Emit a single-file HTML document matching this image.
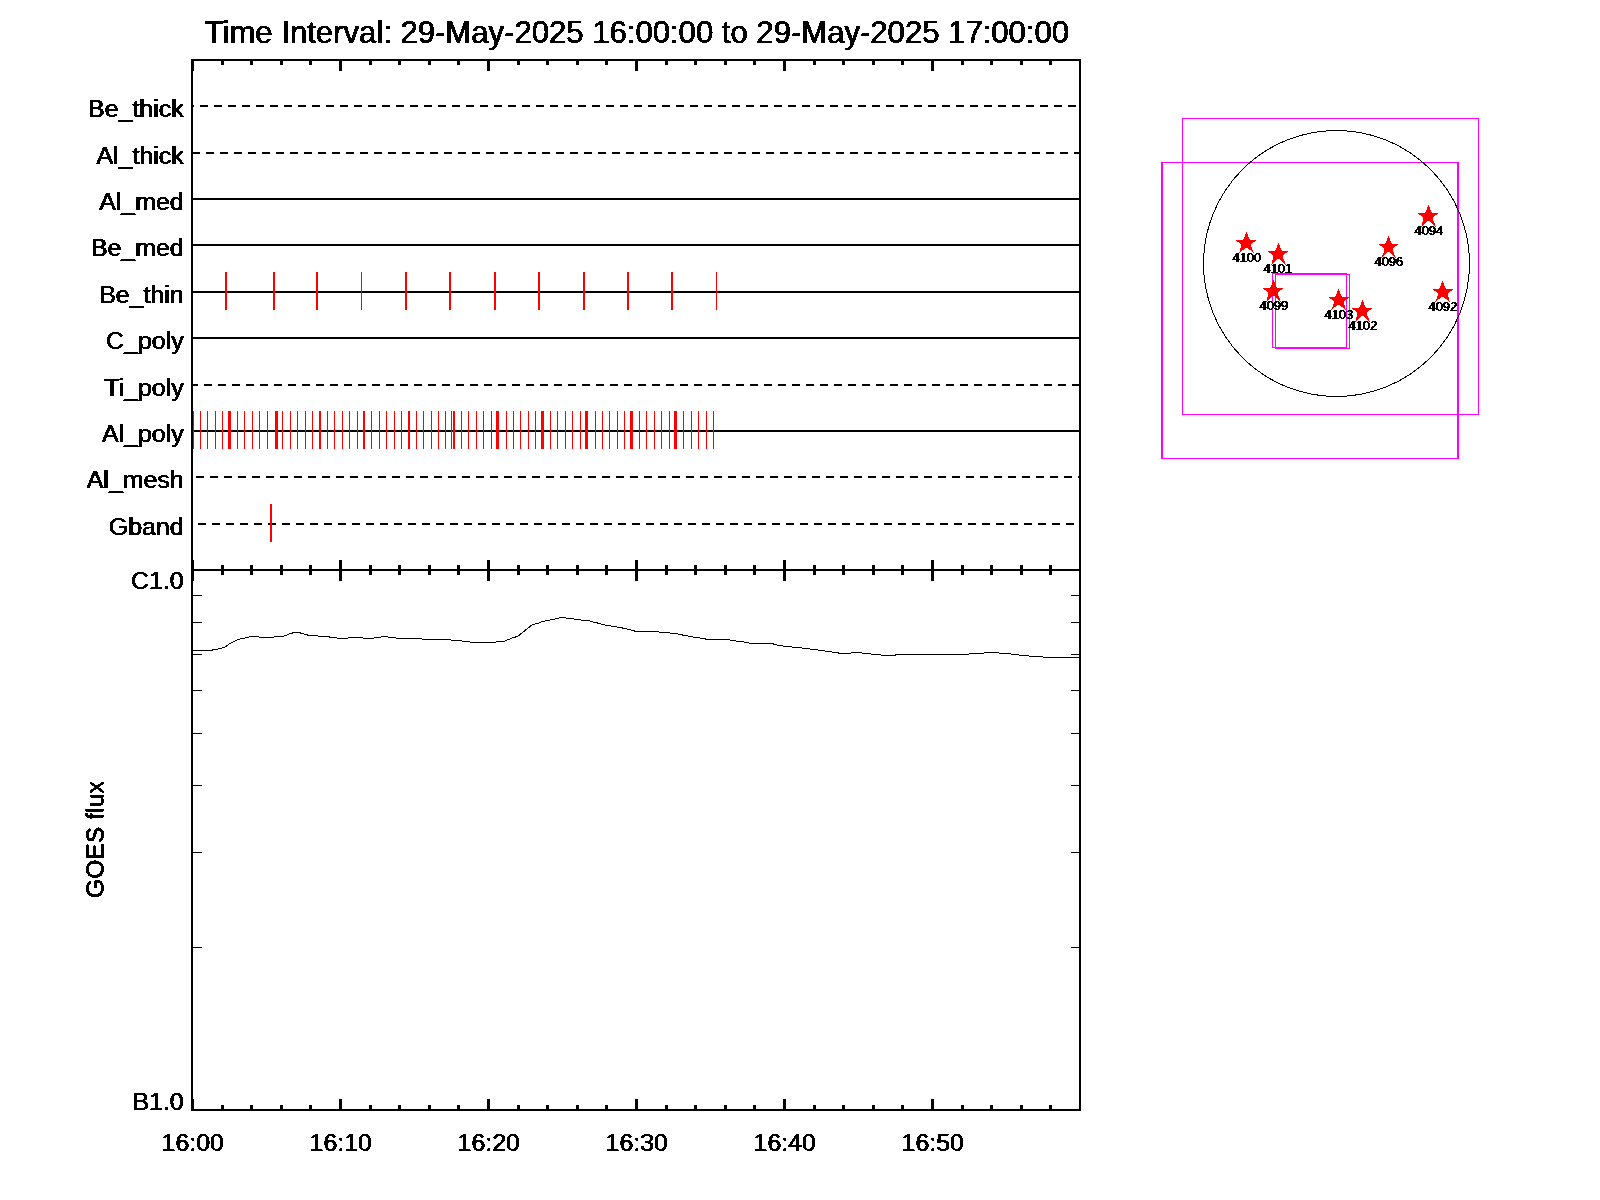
<!DOCTYPE html>
<html lang="en"><head><meta charset="utf-8"><title>XRT Time Interval Plot</title>
<style>
html,body{margin:0;padding:0;background:#fff;}
body{width:1600px;height:1200px;overflow:hidden;}
svg{display:block;}
text{font-family:"Liberation Sans", sans-serif;fill:#000;}
.m{font-size:24.8px;}
.t{font-size:30.5px;}
.s{font-size:12.9px;}
</style></head><body>
<svg width="1600" height="1200" viewBox="0 0 1600 1200">
<rect x="0" y="0" width="1600" height="1200" fill="#fff"/>
<defs><filter id="th" filterUnits="userSpaceOnUse" x="0" y="0" width="1600" height="1200" color-interpolation-filters="sRGB"><feOffset in="SourceGraphic" dx="0.75" dy="0" result="o"/><feMerge result="m"><feMergeNode in="SourceGraphic"/><feMergeNode in="o"/></feMerge><feComponentTransfer in="m"><feFuncA type="discrete" tableValues="0 0 1 1"/></feComponentTransfer></filter></defs>
<g shape-rendering="crispEdges">
<rect x="191" y="59" width="2" height="1052" fill="#000"/>
<rect x="1079" y="59" width="2" height="1052" fill="#000"/>
<rect x="191" y="59" width="890" height="2" fill="#000"/>
<rect x="191" y="569" width="890" height="2" fill="#000"/>
<rect x="191" y="1109" width="890" height="2" fill="#000"/>
<rect x="191" y="61" width="3" height="10" fill="#000"/>
<rect x="191" y="560" width="3" height="21" fill="#000"/>
<rect x="191" y="1099" width="3" height="10" fill="#000"/>
<rect x="221" y="61" width="3" height="4" fill="#000"/>
<rect x="221" y="565" width="3" height="10" fill="#000"/>
<rect x="221" y="1105" width="3" height="4" fill="#000"/>
<rect x="250" y="61" width="3" height="4" fill="#000"/>
<rect x="250" y="565" width="3" height="10" fill="#000"/>
<rect x="250" y="1105" width="3" height="4" fill="#000"/>
<rect x="280" y="61" width="3" height="4" fill="#000"/>
<rect x="280" y="565" width="3" height="10" fill="#000"/>
<rect x="280" y="1105" width="3" height="4" fill="#000"/>
<rect x="309" y="61" width="3" height="4" fill="#000"/>
<rect x="309" y="565" width="3" height="10" fill="#000"/>
<rect x="309" y="1105" width="3" height="4" fill="#000"/>
<rect x="339" y="61" width="3" height="10" fill="#000"/>
<rect x="339" y="560" width="3" height="21" fill="#000"/>
<rect x="339" y="1099" width="3" height="10" fill="#000"/>
<rect x="369" y="61" width="3" height="4" fill="#000"/>
<rect x="369" y="565" width="3" height="10" fill="#000"/>
<rect x="369" y="1105" width="3" height="4" fill="#000"/>
<rect x="398" y="61" width="3" height="4" fill="#000"/>
<rect x="398" y="565" width="3" height="10" fill="#000"/>
<rect x="398" y="1105" width="3" height="4" fill="#000"/>
<rect x="428" y="61" width="3" height="4" fill="#000"/>
<rect x="428" y="565" width="3" height="10" fill="#000"/>
<rect x="428" y="1105" width="3" height="4" fill="#000"/>
<rect x="457" y="61" width="3" height="4" fill="#000"/>
<rect x="457" y="565" width="3" height="10" fill="#000"/>
<rect x="457" y="1105" width="3" height="4" fill="#000"/>
<rect x="487" y="61" width="3" height="10" fill="#000"/>
<rect x="487" y="560" width="3" height="21" fill="#000"/>
<rect x="487" y="1099" width="3" height="10" fill="#000"/>
<rect x="517" y="61" width="3" height="4" fill="#000"/>
<rect x="517" y="565" width="3" height="10" fill="#000"/>
<rect x="517" y="1105" width="3" height="4" fill="#000"/>
<rect x="546" y="61" width="3" height="4" fill="#000"/>
<rect x="546" y="565" width="3" height="10" fill="#000"/>
<rect x="546" y="1105" width="3" height="4" fill="#000"/>
<rect x="576" y="61" width="3" height="4" fill="#000"/>
<rect x="576" y="565" width="3" height="10" fill="#000"/>
<rect x="576" y="1105" width="3" height="4" fill="#000"/>
<rect x="605" y="61" width="3" height="4" fill="#000"/>
<rect x="605" y="565" width="3" height="10" fill="#000"/>
<rect x="605" y="1105" width="3" height="4" fill="#000"/>
<rect x="635" y="61" width="3" height="10" fill="#000"/>
<rect x="635" y="560" width="3" height="21" fill="#000"/>
<rect x="635" y="1099" width="3" height="10" fill="#000"/>
<rect x="665" y="61" width="3" height="4" fill="#000"/>
<rect x="665" y="565" width="3" height="10" fill="#000"/>
<rect x="665" y="1105" width="3" height="4" fill="#000"/>
<rect x="694" y="61" width="3" height="4" fill="#000"/>
<rect x="694" y="565" width="3" height="10" fill="#000"/>
<rect x="694" y="1105" width="3" height="4" fill="#000"/>
<rect x="724" y="61" width="3" height="4" fill="#000"/>
<rect x="724" y="565" width="3" height="10" fill="#000"/>
<rect x="724" y="1105" width="3" height="4" fill="#000"/>
<rect x="753" y="61" width="3" height="4" fill="#000"/>
<rect x="753" y="565" width="3" height="10" fill="#000"/>
<rect x="753" y="1105" width="3" height="4" fill="#000"/>
<rect x="783" y="61" width="3" height="10" fill="#000"/>
<rect x="783" y="560" width="3" height="21" fill="#000"/>
<rect x="783" y="1099" width="3" height="10" fill="#000"/>
<rect x="813" y="61" width="3" height="4" fill="#000"/>
<rect x="813" y="565" width="3" height="10" fill="#000"/>
<rect x="813" y="1105" width="3" height="4" fill="#000"/>
<rect x="842" y="61" width="3" height="4" fill="#000"/>
<rect x="842" y="565" width="3" height="10" fill="#000"/>
<rect x="842" y="1105" width="3" height="4" fill="#000"/>
<rect x="872" y="61" width="3" height="4" fill="#000"/>
<rect x="872" y="565" width="3" height="10" fill="#000"/>
<rect x="872" y="1105" width="3" height="4" fill="#000"/>
<rect x="901" y="61" width="3" height="4" fill="#000"/>
<rect x="901" y="565" width="3" height="10" fill="#000"/>
<rect x="901" y="1105" width="3" height="4" fill="#000"/>
<rect x="931" y="61" width="3" height="10" fill="#000"/>
<rect x="931" y="560" width="3" height="21" fill="#000"/>
<rect x="931" y="1099" width="3" height="10" fill="#000"/>
<rect x="961" y="61" width="3" height="4" fill="#000"/>
<rect x="961" y="565" width="3" height="10" fill="#000"/>
<rect x="961" y="1105" width="3" height="4" fill="#000"/>
<rect x="990" y="61" width="3" height="4" fill="#000"/>
<rect x="990" y="565" width="3" height="10" fill="#000"/>
<rect x="990" y="1105" width="3" height="4" fill="#000"/>
<rect x="1020" y="61" width="3" height="4" fill="#000"/>
<rect x="1020" y="565" width="3" height="10" fill="#000"/>
<rect x="1020" y="1105" width="3" height="4" fill="#000"/>
<rect x="1049" y="61" width="3" height="4" fill="#000"/>
<rect x="1049" y="565" width="3" height="10" fill="#000"/>
<rect x="1049" y="1105" width="3" height="4" fill="#000"/>
<rect x="193" y="105" width="1" height="2" fill="#000"/>
<rect x="200" y="105" width="8" height="2" fill="#000"/>
<rect x="214" y="105" width="8" height="2" fill="#000"/>
<rect x="228" y="105" width="8" height="2" fill="#000"/>
<rect x="242" y="105" width="8" height="2" fill="#000"/>
<rect x="256" y="105" width="8" height="2" fill="#000"/>
<rect x="270" y="105" width="8" height="2" fill="#000"/>
<rect x="284" y="105" width="8" height="2" fill="#000"/>
<rect x="298" y="105" width="8" height="2" fill="#000"/>
<rect x="312" y="105" width="8" height="2" fill="#000"/>
<rect x="326" y="105" width="8" height="2" fill="#000"/>
<rect x="340" y="105" width="8" height="2" fill="#000"/>
<rect x="354" y="105" width="8" height="2" fill="#000"/>
<rect x="368" y="105" width="8" height="2" fill="#000"/>
<rect x="382" y="105" width="8" height="2" fill="#000"/>
<rect x="396" y="105" width="8" height="2" fill="#000"/>
<rect x="410" y="105" width="8" height="2" fill="#000"/>
<rect x="424" y="105" width="8" height="2" fill="#000"/>
<rect x="438" y="105" width="8" height="2" fill="#000"/>
<rect x="452" y="105" width="8" height="2" fill="#000"/>
<rect x="466" y="105" width="8" height="2" fill="#000"/>
<rect x="480" y="105" width="8" height="2" fill="#000"/>
<rect x="494" y="105" width="8" height="2" fill="#000"/>
<rect x="508" y="105" width="8" height="2" fill="#000"/>
<rect x="522" y="105" width="8" height="2" fill="#000"/>
<rect x="536" y="105" width="8" height="2" fill="#000"/>
<rect x="550" y="105" width="8" height="2" fill="#000"/>
<rect x="564" y="105" width="8" height="2" fill="#000"/>
<rect x="578" y="105" width="8" height="2" fill="#000"/>
<rect x="592" y="105" width="8" height="2" fill="#000"/>
<rect x="606" y="105" width="8" height="2" fill="#000"/>
<rect x="620" y="105" width="8" height="2" fill="#000"/>
<rect x="634" y="105" width="8" height="2" fill="#000"/>
<rect x="648" y="105" width="8" height="2" fill="#000"/>
<rect x="662" y="105" width="8" height="2" fill="#000"/>
<rect x="676" y="105" width="8" height="2" fill="#000"/>
<rect x="690" y="105" width="8" height="2" fill="#000"/>
<rect x="704" y="105" width="8" height="2" fill="#000"/>
<rect x="718" y="105" width="8" height="2" fill="#000"/>
<rect x="732" y="105" width="8" height="2" fill="#000"/>
<rect x="746" y="105" width="8" height="2" fill="#000"/>
<rect x="760" y="105" width="8" height="2" fill="#000"/>
<rect x="774" y="105" width="8" height="2" fill="#000"/>
<rect x="788" y="105" width="8" height="2" fill="#000"/>
<rect x="802" y="105" width="8" height="2" fill="#000"/>
<rect x="816" y="105" width="8" height="2" fill="#000"/>
<rect x="830" y="105" width="8" height="2" fill="#000"/>
<rect x="844" y="105" width="8" height="2" fill="#000"/>
<rect x="858" y="105" width="8" height="2" fill="#000"/>
<rect x="872" y="105" width="8" height="2" fill="#000"/>
<rect x="886" y="105" width="8" height="2" fill="#000"/>
<rect x="900" y="105" width="8" height="2" fill="#000"/>
<rect x="914" y="105" width="8" height="2" fill="#000"/>
<rect x="928" y="105" width="8" height="2" fill="#000"/>
<rect x="942" y="105" width="8" height="2" fill="#000"/>
<rect x="956" y="105" width="8" height="2" fill="#000"/>
<rect x="970" y="105" width="8" height="2" fill="#000"/>
<rect x="984" y="105" width="8" height="2" fill="#000"/>
<rect x="998" y="105" width="8" height="2" fill="#000"/>
<rect x="1012" y="105" width="8" height="2" fill="#000"/>
<rect x="1026" y="105" width="8" height="2" fill="#000"/>
<rect x="1040" y="105" width="8" height="2" fill="#000"/>
<rect x="1054" y="105" width="8" height="2" fill="#000"/>
<rect x="1068" y="105" width="8" height="2" fill="#000"/>
<rect x="193" y="152" width="7" height="2" fill="#000"/>
<rect x="206" y="152" width="8" height="2" fill="#000"/>
<rect x="220" y="152" width="8" height="2" fill="#000"/>
<rect x="234" y="152" width="8" height="2" fill="#000"/>
<rect x="248" y="152" width="8" height="2" fill="#000"/>
<rect x="262" y="152" width="8" height="2" fill="#000"/>
<rect x="276" y="152" width="8" height="2" fill="#000"/>
<rect x="290" y="152" width="8" height="2" fill="#000"/>
<rect x="304" y="152" width="8" height="2" fill="#000"/>
<rect x="318" y="152" width="8" height="2" fill="#000"/>
<rect x="332" y="152" width="8" height="2" fill="#000"/>
<rect x="346" y="152" width="8" height="2" fill="#000"/>
<rect x="360" y="152" width="8" height="2" fill="#000"/>
<rect x="374" y="152" width="8" height="2" fill="#000"/>
<rect x="388" y="152" width="8" height="2" fill="#000"/>
<rect x="402" y="152" width="8" height="2" fill="#000"/>
<rect x="416" y="152" width="8" height="2" fill="#000"/>
<rect x="430" y="152" width="8" height="2" fill="#000"/>
<rect x="444" y="152" width="8" height="2" fill="#000"/>
<rect x="458" y="152" width="8" height="2" fill="#000"/>
<rect x="472" y="152" width="8" height="2" fill="#000"/>
<rect x="486" y="152" width="8" height="2" fill="#000"/>
<rect x="500" y="152" width="8" height="2" fill="#000"/>
<rect x="514" y="152" width="8" height="2" fill="#000"/>
<rect x="528" y="152" width="8" height="2" fill="#000"/>
<rect x="542" y="152" width="8" height="2" fill="#000"/>
<rect x="556" y="152" width="8" height="2" fill="#000"/>
<rect x="570" y="152" width="8" height="2" fill="#000"/>
<rect x="584" y="152" width="8" height="2" fill="#000"/>
<rect x="598" y="152" width="8" height="2" fill="#000"/>
<rect x="612" y="152" width="8" height="2" fill="#000"/>
<rect x="626" y="152" width="8" height="2" fill="#000"/>
<rect x="640" y="152" width="8" height="2" fill="#000"/>
<rect x="654" y="152" width="8" height="2" fill="#000"/>
<rect x="668" y="152" width="8" height="2" fill="#000"/>
<rect x="682" y="152" width="8" height="2" fill="#000"/>
<rect x="696" y="152" width="8" height="2" fill="#000"/>
<rect x="710" y="152" width="8" height="2" fill="#000"/>
<rect x="724" y="152" width="8" height="2" fill="#000"/>
<rect x="738" y="152" width="8" height="2" fill="#000"/>
<rect x="752" y="152" width="8" height="2" fill="#000"/>
<rect x="766" y="152" width="8" height="2" fill="#000"/>
<rect x="780" y="152" width="8" height="2" fill="#000"/>
<rect x="794" y="152" width="8" height="2" fill="#000"/>
<rect x="808" y="152" width="8" height="2" fill="#000"/>
<rect x="822" y="152" width="8" height="2" fill="#000"/>
<rect x="836" y="152" width="8" height="2" fill="#000"/>
<rect x="850" y="152" width="8" height="2" fill="#000"/>
<rect x="864" y="152" width="8" height="2" fill="#000"/>
<rect x="878" y="152" width="8" height="2" fill="#000"/>
<rect x="892" y="152" width="8" height="2" fill="#000"/>
<rect x="906" y="152" width="8" height="2" fill="#000"/>
<rect x="920" y="152" width="8" height="2" fill="#000"/>
<rect x="934" y="152" width="8" height="2" fill="#000"/>
<rect x="948" y="152" width="8" height="2" fill="#000"/>
<rect x="962" y="152" width="8" height="2" fill="#000"/>
<rect x="976" y="152" width="8" height="2" fill="#000"/>
<rect x="990" y="152" width="8" height="2" fill="#000"/>
<rect x="1004" y="152" width="8" height="2" fill="#000"/>
<rect x="1018" y="152" width="8" height="2" fill="#000"/>
<rect x="1032" y="152" width="8" height="2" fill="#000"/>
<rect x="1046" y="152" width="8" height="2" fill="#000"/>
<rect x="1060" y="152" width="8" height="2" fill="#000"/>
<rect x="1074" y="152" width="5" height="2" fill="#000"/>
<rect x="193" y="198" width="886" height="2" fill="#000"/>
<rect x="193" y="244" width="886" height="2" fill="#000"/>
<rect x="193" y="291" width="886" height="2" fill="#000"/>
<rect x="193" y="337" width="886" height="2" fill="#000"/>
<rect x="193" y="384" width="5" height="2" fill="#000"/>
<rect x="204" y="384" width="8" height="2" fill="#000"/>
<rect x="218" y="384" width="8" height="2" fill="#000"/>
<rect x="232" y="384" width="8" height="2" fill="#000"/>
<rect x="246" y="384" width="8" height="2" fill="#000"/>
<rect x="260" y="384" width="8" height="2" fill="#000"/>
<rect x="274" y="384" width="8" height="2" fill="#000"/>
<rect x="288" y="384" width="8" height="2" fill="#000"/>
<rect x="302" y="384" width="8" height="2" fill="#000"/>
<rect x="316" y="384" width="8" height="2" fill="#000"/>
<rect x="330" y="384" width="8" height="2" fill="#000"/>
<rect x="344" y="384" width="8" height="2" fill="#000"/>
<rect x="358" y="384" width="8" height="2" fill="#000"/>
<rect x="372" y="384" width="8" height="2" fill="#000"/>
<rect x="386" y="384" width="8" height="2" fill="#000"/>
<rect x="400" y="384" width="8" height="2" fill="#000"/>
<rect x="414" y="384" width="8" height="2" fill="#000"/>
<rect x="428" y="384" width="8" height="2" fill="#000"/>
<rect x="442" y="384" width="8" height="2" fill="#000"/>
<rect x="456" y="384" width="8" height="2" fill="#000"/>
<rect x="470" y="384" width="8" height="2" fill="#000"/>
<rect x="484" y="384" width="8" height="2" fill="#000"/>
<rect x="498" y="384" width="8" height="2" fill="#000"/>
<rect x="512" y="384" width="8" height="2" fill="#000"/>
<rect x="526" y="384" width="8" height="2" fill="#000"/>
<rect x="540" y="384" width="8" height="2" fill="#000"/>
<rect x="554" y="384" width="8" height="2" fill="#000"/>
<rect x="568" y="384" width="8" height="2" fill="#000"/>
<rect x="582" y="384" width="8" height="2" fill="#000"/>
<rect x="596" y="384" width="8" height="2" fill="#000"/>
<rect x="610" y="384" width="8" height="2" fill="#000"/>
<rect x="624" y="384" width="8" height="2" fill="#000"/>
<rect x="638" y="384" width="8" height="2" fill="#000"/>
<rect x="652" y="384" width="8" height="2" fill="#000"/>
<rect x="666" y="384" width="8" height="2" fill="#000"/>
<rect x="680" y="384" width="8" height="2" fill="#000"/>
<rect x="694" y="384" width="8" height="2" fill="#000"/>
<rect x="708" y="384" width="8" height="2" fill="#000"/>
<rect x="722" y="384" width="8" height="2" fill="#000"/>
<rect x="736" y="384" width="8" height="2" fill="#000"/>
<rect x="750" y="384" width="8" height="2" fill="#000"/>
<rect x="764" y="384" width="8" height="2" fill="#000"/>
<rect x="778" y="384" width="8" height="2" fill="#000"/>
<rect x="792" y="384" width="8" height="2" fill="#000"/>
<rect x="806" y="384" width="8" height="2" fill="#000"/>
<rect x="820" y="384" width="8" height="2" fill="#000"/>
<rect x="834" y="384" width="8" height="2" fill="#000"/>
<rect x="848" y="384" width="8" height="2" fill="#000"/>
<rect x="862" y="384" width="8" height="2" fill="#000"/>
<rect x="876" y="384" width="8" height="2" fill="#000"/>
<rect x="890" y="384" width="8" height="2" fill="#000"/>
<rect x="904" y="384" width="8" height="2" fill="#000"/>
<rect x="918" y="384" width="8" height="2" fill="#000"/>
<rect x="932" y="384" width="8" height="2" fill="#000"/>
<rect x="946" y="384" width="8" height="2" fill="#000"/>
<rect x="960" y="384" width="8" height="2" fill="#000"/>
<rect x="974" y="384" width="8" height="2" fill="#000"/>
<rect x="988" y="384" width="8" height="2" fill="#000"/>
<rect x="1002" y="384" width="8" height="2" fill="#000"/>
<rect x="1016" y="384" width="8" height="2" fill="#000"/>
<rect x="1030" y="384" width="8" height="2" fill="#000"/>
<rect x="1044" y="384" width="8" height="2" fill="#000"/>
<rect x="1058" y="384" width="8" height="2" fill="#000"/>
<rect x="1072" y="384" width="7" height="2" fill="#000"/>
<rect x="193" y="430" width="886" height="2" fill="#000"/>
<rect x="196" y="476" width="8" height="2" fill="#000"/>
<rect x="210" y="476" width="8" height="2" fill="#000"/>
<rect x="224" y="476" width="8" height="2" fill="#000"/>
<rect x="238" y="476" width="8" height="2" fill="#000"/>
<rect x="252" y="476" width="8" height="2" fill="#000"/>
<rect x="266" y="476" width="8" height="2" fill="#000"/>
<rect x="280" y="476" width="8" height="2" fill="#000"/>
<rect x="294" y="476" width="8" height="2" fill="#000"/>
<rect x="308" y="476" width="8" height="2" fill="#000"/>
<rect x="322" y="476" width="8" height="2" fill="#000"/>
<rect x="336" y="476" width="8" height="2" fill="#000"/>
<rect x="350" y="476" width="8" height="2" fill="#000"/>
<rect x="364" y="476" width="8" height="2" fill="#000"/>
<rect x="378" y="476" width="8" height="2" fill="#000"/>
<rect x="392" y="476" width="8" height="2" fill="#000"/>
<rect x="406" y="476" width="8" height="2" fill="#000"/>
<rect x="420" y="476" width="8" height="2" fill="#000"/>
<rect x="434" y="476" width="8" height="2" fill="#000"/>
<rect x="448" y="476" width="8" height="2" fill="#000"/>
<rect x="462" y="476" width="8" height="2" fill="#000"/>
<rect x="476" y="476" width="8" height="2" fill="#000"/>
<rect x="490" y="476" width="8" height="2" fill="#000"/>
<rect x="504" y="476" width="8" height="2" fill="#000"/>
<rect x="518" y="476" width="8" height="2" fill="#000"/>
<rect x="532" y="476" width="8" height="2" fill="#000"/>
<rect x="546" y="476" width="8" height="2" fill="#000"/>
<rect x="560" y="476" width="8" height="2" fill="#000"/>
<rect x="574" y="476" width="8" height="2" fill="#000"/>
<rect x="588" y="476" width="8" height="2" fill="#000"/>
<rect x="602" y="476" width="8" height="2" fill="#000"/>
<rect x="616" y="476" width="8" height="2" fill="#000"/>
<rect x="630" y="476" width="8" height="2" fill="#000"/>
<rect x="644" y="476" width="8" height="2" fill="#000"/>
<rect x="658" y="476" width="8" height="2" fill="#000"/>
<rect x="672" y="476" width="8" height="2" fill="#000"/>
<rect x="686" y="476" width="8" height="2" fill="#000"/>
<rect x="700" y="476" width="8" height="2" fill="#000"/>
<rect x="714" y="476" width="8" height="2" fill="#000"/>
<rect x="728" y="476" width="8" height="2" fill="#000"/>
<rect x="742" y="476" width="8" height="2" fill="#000"/>
<rect x="756" y="476" width="8" height="2" fill="#000"/>
<rect x="770" y="476" width="8" height="2" fill="#000"/>
<rect x="784" y="476" width="8" height="2" fill="#000"/>
<rect x="798" y="476" width="8" height="2" fill="#000"/>
<rect x="812" y="476" width="8" height="2" fill="#000"/>
<rect x="826" y="476" width="8" height="2" fill="#000"/>
<rect x="840" y="476" width="8" height="2" fill="#000"/>
<rect x="854" y="476" width="8" height="2" fill="#000"/>
<rect x="868" y="476" width="8" height="2" fill="#000"/>
<rect x="882" y="476" width="8" height="2" fill="#000"/>
<rect x="896" y="476" width="8" height="2" fill="#000"/>
<rect x="910" y="476" width="8" height="2" fill="#000"/>
<rect x="924" y="476" width="8" height="2" fill="#000"/>
<rect x="938" y="476" width="8" height="2" fill="#000"/>
<rect x="952" y="476" width="8" height="2" fill="#000"/>
<rect x="966" y="476" width="8" height="2" fill="#000"/>
<rect x="980" y="476" width="8" height="2" fill="#000"/>
<rect x="994" y="476" width="8" height="2" fill="#000"/>
<rect x="1008" y="476" width="8" height="2" fill="#000"/>
<rect x="1022" y="476" width="8" height="2" fill="#000"/>
<rect x="1036" y="476" width="8" height="2" fill="#000"/>
<rect x="1050" y="476" width="8" height="2" fill="#000"/>
<rect x="1064" y="476" width="8" height="2" fill="#000"/>
<rect x="1078" y="476" width="1" height="2" fill="#000"/>
<rect x="198" y="523" width="8" height="2" fill="#000"/>
<rect x="212" y="523" width="8" height="2" fill="#000"/>
<rect x="226" y="523" width="8" height="2" fill="#000"/>
<rect x="240" y="523" width="8" height="2" fill="#000"/>
<rect x="254" y="523" width="8" height="2" fill="#000"/>
<rect x="268" y="523" width="8" height="2" fill="#000"/>
<rect x="282" y="523" width="8" height="2" fill="#000"/>
<rect x="296" y="523" width="8" height="2" fill="#000"/>
<rect x="310" y="523" width="8" height="2" fill="#000"/>
<rect x="324" y="523" width="8" height="2" fill="#000"/>
<rect x="338" y="523" width="8" height="2" fill="#000"/>
<rect x="352" y="523" width="8" height="2" fill="#000"/>
<rect x="366" y="523" width="8" height="2" fill="#000"/>
<rect x="380" y="523" width="8" height="2" fill="#000"/>
<rect x="394" y="523" width="8" height="2" fill="#000"/>
<rect x="408" y="523" width="8" height="2" fill="#000"/>
<rect x="422" y="523" width="8" height="2" fill="#000"/>
<rect x="436" y="523" width="8" height="2" fill="#000"/>
<rect x="450" y="523" width="8" height="2" fill="#000"/>
<rect x="464" y="523" width="8" height="2" fill="#000"/>
<rect x="478" y="523" width="8" height="2" fill="#000"/>
<rect x="492" y="523" width="8" height="2" fill="#000"/>
<rect x="506" y="523" width="8" height="2" fill="#000"/>
<rect x="520" y="523" width="8" height="2" fill="#000"/>
<rect x="534" y="523" width="8" height="2" fill="#000"/>
<rect x="548" y="523" width="8" height="2" fill="#000"/>
<rect x="562" y="523" width="8" height="2" fill="#000"/>
<rect x="576" y="523" width="8" height="2" fill="#000"/>
<rect x="590" y="523" width="8" height="2" fill="#000"/>
<rect x="604" y="523" width="8" height="2" fill="#000"/>
<rect x="618" y="523" width="8" height="2" fill="#000"/>
<rect x="632" y="523" width="8" height="2" fill="#000"/>
<rect x="646" y="523" width="8" height="2" fill="#000"/>
<rect x="660" y="523" width="8" height="2" fill="#000"/>
<rect x="674" y="523" width="8" height="2" fill="#000"/>
<rect x="688" y="523" width="8" height="2" fill="#000"/>
<rect x="702" y="523" width="8" height="2" fill="#000"/>
<rect x="716" y="523" width="8" height="2" fill="#000"/>
<rect x="730" y="523" width="8" height="2" fill="#000"/>
<rect x="744" y="523" width="8" height="2" fill="#000"/>
<rect x="758" y="523" width="8" height="2" fill="#000"/>
<rect x="772" y="523" width="8" height="2" fill="#000"/>
<rect x="786" y="523" width="8" height="2" fill="#000"/>
<rect x="800" y="523" width="8" height="2" fill="#000"/>
<rect x="814" y="523" width="8" height="2" fill="#000"/>
<rect x="828" y="523" width="8" height="2" fill="#000"/>
<rect x="842" y="523" width="8" height="2" fill="#000"/>
<rect x="856" y="523" width="8" height="2" fill="#000"/>
<rect x="870" y="523" width="8" height="2" fill="#000"/>
<rect x="884" y="523" width="8" height="2" fill="#000"/>
<rect x="898" y="523" width="8" height="2" fill="#000"/>
<rect x="912" y="523" width="8" height="2" fill="#000"/>
<rect x="926" y="523" width="8" height="2" fill="#000"/>
<rect x="940" y="523" width="8" height="2" fill="#000"/>
<rect x="954" y="523" width="8" height="2" fill="#000"/>
<rect x="968" y="523" width="8" height="2" fill="#000"/>
<rect x="982" y="523" width="8" height="2" fill="#000"/>
<rect x="996" y="523" width="8" height="2" fill="#000"/>
<rect x="1010" y="523" width="8" height="2" fill="#000"/>
<rect x="1024" y="523" width="8" height="2" fill="#000"/>
<rect x="1038" y="523" width="8" height="2" fill="#000"/>
<rect x="1052" y="523" width="8" height="2" fill="#000"/>
<rect x="1066" y="523" width="8" height="2" fill="#000"/>
<rect x="193" y="947" width="9" height="1" fill="#000"/>
<rect x="1071" y="947" width="8" height="1" fill="#000"/>
<rect x="193" y="852" width="9" height="1" fill="#000"/>
<rect x="1071" y="852" width="8" height="1" fill="#000"/>
<rect x="193" y="785" width="9" height="1" fill="#000"/>
<rect x="1071" y="785" width="8" height="1" fill="#000"/>
<rect x="193" y="733" width="9" height="1" fill="#000"/>
<rect x="1071" y="733" width="8" height="1" fill="#000"/>
<rect x="193" y="690" width="9" height="1" fill="#000"/>
<rect x="1071" y="690" width="8" height="1" fill="#000"/>
<rect x="193" y="654" width="9" height="1" fill="#000"/>
<rect x="1071" y="654" width="8" height="1" fill="#000"/>
<rect x="193" y="622" width="9" height="1" fill="#000"/>
<rect x="1071" y="622" width="8" height="1" fill="#000"/>
<rect x="193" y="595" width="9" height="1" fill="#000"/>
<rect x="1071" y="595" width="8" height="1" fill="#000"/>
<rect x="225" y="272" width="2" height="38" fill="#ff0000"/>
<rect x="273" y="272" width="2" height="38" fill="#ff0000"/>
<rect x="316" y="272" width="2" height="38" fill="#ff0000"/>
<rect x="361" y="272" width="1" height="38" fill="#ff0000"/>
<rect x="405" y="272" width="2" height="38" fill="#ff0000"/>
<rect x="449" y="272" width="2" height="38" fill="#ff0000"/>
<rect x="494" y="272" width="2" height="38" fill="#ff0000"/>
<rect x="538" y="272" width="2" height="38" fill="#ff0000"/>
<rect x="583" y="272" width="2" height="38" fill="#ff0000"/>
<rect x="627" y="272" width="2" height="38" fill="#ff0000"/>
<rect x="671" y="272" width="2" height="38" fill="#ff0000"/>
<rect x="716" y="272" width="1" height="38" fill="#ff0000"/>
<rect x="193" y="411" width="1" height="38" fill="#ff0000"/>
<rect x="200" y="411" width="1" height="38" fill="#ff0000"/>
<rect x="207" y="411" width="1" height="38" fill="#ff0000"/>
<rect x="215" y="411" width="1" height="38" fill="#ff0000"/>
<rect x="222" y="411" width="1" height="38" fill="#ff0000"/>
<rect x="228" y="411" width="3" height="38" fill="#ff0000"/>
<rect x="237" y="411" width="1" height="38" fill="#ff0000"/>
<rect x="244" y="411" width="1" height="38" fill="#ff0000"/>
<rect x="252" y="411" width="1" height="38" fill="#ff0000"/>
<rect x="259" y="411" width="1" height="38" fill="#ff0000"/>
<rect x="267" y="411" width="1" height="38" fill="#ff0000"/>
<rect x="275" y="411" width="3" height="38" fill="#ff0000"/>
<rect x="282" y="411" width="1" height="38" fill="#ff0000"/>
<rect x="290" y="411" width="1" height="38" fill="#ff0000"/>
<rect x="297" y="411" width="1" height="38" fill="#ff0000"/>
<rect x="305" y="411" width="1" height="38" fill="#ff0000"/>
<rect x="312" y="411" width="1" height="38" fill="#ff0000"/>
<rect x="319" y="411" width="2" height="38" fill="#ff0000"/>
<rect x="327" y="411" width="1" height="38" fill="#ff0000"/>
<rect x="334" y="411" width="1" height="38" fill="#ff0000"/>
<rect x="342" y="411" width="1" height="38" fill="#ff0000"/>
<rect x="349" y="411" width="1" height="38" fill="#ff0000"/>
<rect x="357" y="411" width="1" height="38" fill="#ff0000"/>
<rect x="363" y="411" width="2" height="38" fill="#ff0000"/>
<rect x="371" y="411" width="1" height="38" fill="#ff0000"/>
<rect x="379" y="411" width="1" height="38" fill="#ff0000"/>
<rect x="386" y="411" width="1" height="38" fill="#ff0000"/>
<rect x="394" y="411" width="1" height="38" fill="#ff0000"/>
<rect x="401" y="411" width="1" height="38" fill="#ff0000"/>
<rect x="408" y="411" width="2" height="38" fill="#ff0000"/>
<rect x="416" y="411" width="1" height="38" fill="#ff0000"/>
<rect x="423" y="411" width="1" height="38" fill="#ff0000"/>
<rect x="431" y="411" width="1" height="38" fill="#ff0000"/>
<rect x="438" y="411" width="1" height="38" fill="#ff0000"/>
<rect x="445" y="411" width="1" height="38" fill="#ff0000"/>
<rect x="451" y="411" width="1" height="38" fill="#ff0000"/>
<rect x="453" y="411" width="2" height="38" fill="#ff0000"/>
<rect x="461" y="411" width="1" height="38" fill="#ff0000"/>
<rect x="468" y="411" width="1" height="38" fill="#ff0000"/>
<rect x="476" y="411" width="1" height="38" fill="#ff0000"/>
<rect x="483" y="411" width="1" height="38" fill="#ff0000"/>
<rect x="491" y="411" width="1" height="38" fill="#ff0000"/>
<rect x="496" y="411" width="3" height="38" fill="#ff0000"/>
<rect x="506" y="411" width="1" height="38" fill="#ff0000"/>
<rect x="513" y="411" width="1" height="38" fill="#ff0000"/>
<rect x="520" y="411" width="1" height="38" fill="#ff0000"/>
<rect x="528" y="411" width="1" height="38" fill="#ff0000"/>
<rect x="535" y="411" width="1" height="38" fill="#ff0000"/>
<rect x="541" y="411" width="3" height="38" fill="#ff0000"/>
<rect x="550" y="411" width="1" height="38" fill="#ff0000"/>
<rect x="557" y="411" width="1" height="38" fill="#ff0000"/>
<rect x="565" y="411" width="1" height="38" fill="#ff0000"/>
<rect x="572" y="411" width="1" height="38" fill="#ff0000"/>
<rect x="580" y="411" width="1" height="38" fill="#ff0000"/>
<rect x="585" y="411" width="3" height="38" fill="#ff0000"/>
<rect x="595" y="411" width="1" height="38" fill="#ff0000"/>
<rect x="602" y="411" width="1" height="38" fill="#ff0000"/>
<rect x="609" y="411" width="1" height="38" fill="#ff0000"/>
<rect x="617" y="411" width="1" height="38" fill="#ff0000"/>
<rect x="624" y="411" width="1" height="38" fill="#ff0000"/>
<rect x="630" y="411" width="3" height="38" fill="#ff0000"/>
<rect x="639" y="411" width="1" height="38" fill="#ff0000"/>
<rect x="646" y="411" width="1" height="38" fill="#ff0000"/>
<rect x="654" y="411" width="1" height="38" fill="#ff0000"/>
<rect x="661" y="411" width="1" height="38" fill="#ff0000"/>
<rect x="669" y="411" width="1" height="38" fill="#ff0000"/>
<rect x="674" y="411" width="3" height="38" fill="#ff0000"/>
<rect x="683" y="411" width="1" height="38" fill="#ff0000"/>
<rect x="691" y="411" width="1" height="38" fill="#ff0000"/>
<rect x="698" y="411" width="1" height="38" fill="#ff0000"/>
<rect x="706" y="411" width="1" height="38" fill="#ff0000"/>
<rect x="713" y="411" width="1" height="38" fill="#ff0000"/>
<rect x="270" y="504" width="2" height="38" fill="#ff0000"/>
</g>
<polyline fill="none" stroke="#000" stroke-width="1" shape-rendering="crispEdges" points="192,650.5 210,650.5 215,649.5 221,648.5 226,646.5 230,643.5 234,641.5 238,639.5 242.5,638.5 247,637.5 251,636.5 258,636.5 260,637.5 273,637.5 275,636.5 282,636.5 286,635.5 290.5,633.5 294.5,632.5 298.5,632.5 302.5,633.5 306,634.5 309,635.5 317,635.5 319,636.5 328.5,636.5 330.5,637.5 336,637.5 338,638.5 347.5,638.5 349,637.5 362.5,637.5 364,638.5 373.5,638.5 375,637.5 380,637.5 381.5,636.5 387.5,636.5 388.5,637.5 395.5,637.5 396.5,638.5 421,638.5 423,639.5 450.5,639.5 451.5,640.5 461,640.5 463,641.5 469,641.5 470.5,642.5 495.5,642.5 496.5,641.5 504,641.5 508.5,639.5 513.5,637.5 517.5,636.5 522.5,632.5 527.5,628.5 532.5,624.5 537.5,623.5 542.5,621.5 547.5,620.5 552.5,619.5 557.5,618.5 561,617.5 565,617.5 566.5,618.5 573.5,618.5 574.5,619.5 580.5,619.5 581.5,620.5 588.5,620.5 591,621.5 595.5,622.5 599.5,623.5 603,624.5 607.5,625.5 614,626.5 620,627.5 625,628.5 629,629.5 633,630.5 636,631.5 658,631.5 660,632.5 669,632.5 670.5,633.5 676,633.5 679.5,634.5 685.5,635.5 690.5,636.5 696,637.5 703,638.5 708,639.5 728,639.5 732,640.5 740,641.5 747,642.5 751.5,643.5 772,643.5 775,644.5 779.5,645.5 787,646.5 797.5,647.5 806.5,648.5 814,649.5 821.5,650.5 828.5,651.5 836,652.5 841,653.5 850.5,653.5 851.5,652.5 861,652.5 862.5,653.5 870,653.5 871.5,654.5 880.5,654.5 881.5,655.5 895,655.5 896,654.5 968.5,654.5 969.5,653.5 983.5,653.5 984.5,652.5 998.5,652.5 999.5,653.5 1010,653.5 1011.5,654.5 1018,654.5 1019.5,655.5 1028.5,655.5 1030,656.5 1042.5,656.5 1043.5,657.5 1079,657.5"/>
<g filter="url(#th)">
<text class="t" transform="translate(636.4,42.7) rotate(0.01) scale(1.0195,1)" text-anchor="middle">Time Interval: 29-May-2025 16:00:00 to 29-May-2025 17:00:00</text>
<text class="m" transform="translate(183.2,116.8) rotate(0.01) scale(1.005,1)" text-anchor="end">Be_thick</text>
<text class="m" transform="translate(183.2,163.8) rotate(0.01) scale(1.005,1)" text-anchor="end">Al_thick</text>
<text class="m" transform="translate(183.2,209.8) rotate(0.01) scale(1.005,1)" text-anchor="end">Al_med</text>
<text class="m" transform="translate(183.2,255.8) rotate(0.01) scale(1.005,1)" text-anchor="end">Be_med</text>
<text class="m" transform="translate(183.2,302.8) rotate(0.01) scale(1.005,1)" text-anchor="end">Be_thin</text>
<text class="m" transform="translate(183.2,348.8) rotate(0.01) scale(1.005,1)" text-anchor="end">C_poly</text>
<text class="m" transform="translate(183.2,395.8) rotate(0.01) scale(1.005,1)" text-anchor="end">Ti_poly</text>
<text class="m" transform="translate(183.2,441.8) rotate(0.01) scale(1.005,1)" text-anchor="end">Al_poly</text>
<text class="m" transform="translate(183.2,487.8) rotate(0.01) scale(1.005,1)" text-anchor="end">Al_mesh</text>
<text class="m" transform="translate(183.2,534.8) rotate(0.01) scale(1.005,1)" text-anchor="end">Gband</text>
<text class="m" transform="translate(183.2,588.8) rotate(0.01) scale(1.005,1)" text-anchor="end">C1.0</text>
<text class="m" transform="translate(183.2,1110) rotate(0.01) scale(1.005,1)" text-anchor="end">B1.0</text>
<text class="m" transform="translate(192.3,1151.2) rotate(0.01) scale(1.005,1)" text-anchor="middle">16:00</text>
<text class="m" transform="translate(340.3,1151.2) rotate(0.01) scale(1.005,1)" text-anchor="middle">16:10</text>
<text class="m" transform="translate(488.3,1151.2) rotate(0.01) scale(1.005,1)" text-anchor="middle">16:20</text>
<text class="m" transform="translate(636.3,1151.2) rotate(0.01) scale(1.005,1)" text-anchor="middle">16:30</text>
<text class="m" transform="translate(784.3,1151.2) rotate(0.01) scale(1.005,1)" text-anchor="middle">16:40</text>
<text class="m" transform="translate(932.3,1151.2) rotate(0.01) scale(1.005,1)" text-anchor="middle">16:50</text>
<text class="m" transform="translate(102.9,839.6) rotate(-89.99) scale(1,1)" text-anchor="middle">GOES flux</text>
</g>
<g fill="none" shape-rendering="crispEdges" stroke-width="1">
<rect x="1182.5" y="118.5" width="296" height="296" stroke="#ff00ff"/>
<rect x="1161.5" y="162.5" width="296" height="296" stroke="#ff00ff"/>
<rect x="1162.5" y="162.5" width="296" height="296" stroke="#ff00ff"/>
<rect x="1272.5" y="273.5" width="74" height="74" stroke="#ff00ff"/>
<rect x="1275.5" y="274.5" width="74" height="74" stroke="#ff00ff"/>
<circle cx="1336.5" cy="263.5" r="133" stroke="#000"/>
</g>
<path transform="translate(1246,232)" d="M0 0h1v1h-1zM0 1h1v1h-1zM-1 2h3v1h-3zM-1 3h3v1h-3zM-1 4h3v1h-3zM-2 5h5v1h-5zM-2 6h5v1h-5zM-3 7h7v1h-7zM-10 8h20v1h-20zM-9 9h18v1h-18zM-7 10h14v1h-14zM-6 11h12v1h-12zM-5 12h10v1h-10zM-5 13h10v1h-10zM-5 14h10v1h-10zM-5 15h11v1h-11zM-6 16h5v1h-5zM2 16h4v1h-4zM-6 17h4v1h-4zM3 17h3v1h-3zM-6 18h2v1h-2zM5 18h2v1h-2zM-6 19h1v1h-1zM6 19h1v1h-1zM-7 20h1v1h-1zM7 20h1v1h-1z" fill="#ff0000" shape-rendering="crispEdges"/>
<path transform="translate(1278,243)" d="M0 0h1v1h-1zM0 1h1v1h-1zM-1 2h3v1h-3zM-1 3h3v1h-3zM-1 4h3v1h-3zM-2 5h5v1h-5zM-2 6h5v1h-5zM-3 7h7v1h-7zM-10 8h20v1h-20zM-9 9h18v1h-18zM-7 10h14v1h-14zM-6 11h12v1h-12zM-5 12h10v1h-10zM-5 13h10v1h-10zM-5 14h10v1h-10zM-5 15h10v1h-10zM-5 16h4v1h-4zM2 16h4v1h-4zM-6 17h4v1h-4zM3 17h3v1h-3zM-6 18h3v1h-3zM4 18h3v1h-3zM-6 19h2v1h-2zM5 19h2v1h-2zM-6 20h1v1h-1zM6 20h1v1h-1zM-7 21h1v1h-1zM7 21h1v1h-1z" fill="#ff0000" shape-rendering="crispEdges"/>
<path transform="translate(1273,280)" d="M0 0h1v1h-1zM0 1h1v1h-1zM-1 2h3v1h-3zM-1 3h3v1h-3zM-1 4h3v1h-3zM-2 5h5v1h-5zM-2 6h5v1h-5zM-3 7h7v1h-7zM-10 8h20v1h-20zM-9 9h18v1h-18zM-7 10h14v1h-14zM-6 11h12v1h-12zM-5 12h10v1h-10zM-5 13h10v1h-10zM-5 14h10v1h-10zM-5 15h10v1h-10zM-5 16h4v1h-4zM2 16h4v1h-4zM-6 17h4v1h-4zM3 17h3v1h-3zM-6 18h3v1h-3zM4 18h3v1h-3zM-6 19h2v1h-2zM5 19h2v1h-2zM-6 20h1v1h-1zM6 20h1v1h-1zM-7 21h1v1h-1zM7 21h1v1h-1z" fill="#ff0000" shape-rendering="crispEdges"/>
<path transform="translate(1338,289)" d="M0 0h1v1h-1zM0 1h1v1h-1zM-1 2h3v1h-3zM-1 3h3v1h-3zM-1 4h3v1h-3zM-2 5h5v1h-5zM-2 6h5v1h-5zM-3 7h7v1h-7zM-9 8h20v1h-20zM-8 9h18v1h-18zM-6 10h14v1h-14zM-5 11h12v1h-12zM-4 12h10v1h-10zM-4 13h10v1h-10zM-4 14h10v1h-10zM-5 15h11v1h-11zM-5 16h4v1h-4zM2 16h5v1h-5zM-5 17h3v1h-3zM3 17h4v1h-4zM-6 18h2v1h-2zM5 18h2v1h-2zM-6 19h1v1h-1zM6 19h1v1h-1zM-7 20h1v1h-1zM7 20h1v1h-1z" fill="#ff0000" shape-rendering="crispEdges"/>
<path transform="translate(1362,300)" d="M0 0h1v1h-1zM0 1h1v1h-1zM-1 2h3v1h-3zM-1 3h3v1h-3zM-1 4h3v1h-3zM-2 5h5v1h-5zM-2 6h5v1h-5zM-3 7h7v1h-7zM-10 8h20v1h-20zM-9 9h18v1h-18zM-7 10h14v1h-14zM-6 11h12v1h-12zM-5 12h10v1h-10zM-5 13h10v1h-10zM-5 14h10v1h-10zM-5 15h10v1h-10zM-5 16h4v1h-4zM2 16h4v1h-4zM-6 17h4v1h-4zM3 17h3v1h-3zM-6 18h3v1h-3zM4 18h3v1h-3zM-6 19h2v1h-2zM5 19h2v1h-2zM-6 20h1v1h-1zM6 20h1v1h-1zM-7 21h1v1h-1zM7 21h1v1h-1z" fill="#ff0000" shape-rendering="crispEdges"/>
<path transform="translate(1388,236)" d="M0 0h1v1h-1zM0 1h1v1h-1zM-1 2h3v1h-3zM-1 3h3v1h-3zM-1 4h3v1h-3zM-2 5h5v1h-5zM-2 6h5v1h-5zM-3 7h7v1h-7zM-9 8h19v1h-19zM-8 9h17v1h-17zM-6 10h13v1h-13zM-5 11h11v1h-11zM-4 12h9v1h-9zM-4 13h9v1h-9zM-4 14h9v1h-9zM-4 15h9v1h-9zM-4 16h3v1h-3zM2 16h4v1h-4zM-5 17h3v1h-3zM3 17h3v1h-3zM-5 18h2v1h-2zM4 18h2v1h-2zM-6 19h2v1h-2zM5 19h2v1h-2zM-6 20h1v1h-1zM6 20h1v1h-1zM-7 21h1v1h-1zM7 21h1v1h-1z" fill="#ff0000" shape-rendering="crispEdges"/>
<path transform="translate(1428,205)" d="M0 0h1v1h-1zM0 1h1v1h-1zM-1 2h3v1h-3zM-1 3h3v1h-3zM-1 4h3v1h-3zM-2 5h5v1h-5zM-2 6h5v1h-5zM-3 7h7v1h-7zM-10 8h20v1h-20zM-9 9h18v1h-18zM-7 10h14v1h-14zM-6 11h12v1h-12zM-5 12h10v1h-10zM-5 13h10v1h-10zM-5 14h10v1h-10zM-5 15h10v1h-10zM-5 16h4v1h-4zM2 16h4v1h-4zM-6 17h4v1h-4zM3 17h3v1h-3zM-6 18h3v1h-3zM4 18h3v1h-3zM-6 19h2v1h-2zM5 19h2v1h-2zM-6 20h1v1h-1zM6 20h1v1h-1zM-7 21h1v1h-1zM7 21h1v1h-1z" fill="#ff0000" shape-rendering="crispEdges"/>
<path transform="translate(1442,281)" d="M0 0h1v1h-1zM0 1h1v1h-1zM-1 2h3v1h-3zM-1 3h3v1h-3zM-1 4h3v1h-3zM-2 5h5v1h-5zM-2 6h5v1h-5zM-3 7h7v1h-7zM-9 8h20v1h-20zM-8 9h18v1h-18zM-6 10h14v1h-14zM-5 11h12v1h-12zM-4 12h10v1h-10zM-4 13h10v1h-10zM-4 14h10v1h-10zM-5 15h11v1h-11zM-5 16h4v1h-4zM2 16h5v1h-5zM-5 17h3v1h-3zM3 17h4v1h-4zM-6 18h2v1h-2zM5 18h2v1h-2zM-6 19h1v1h-1zM6 19h1v1h-1zM-7 20h1v1h-1zM7 20h1v1h-1z" fill="#ff0000" shape-rendering="crispEdges"/>
<g filter="url(#th)">
<text class="s" transform="translate(1246.3,261.7) rotate(0.01) scale(1,1)" text-anchor="middle">4100</text>
<text class="s" transform="translate(1277.3,272.7) rotate(0.01) scale(1,1)" text-anchor="middle">4101</text>
<text class="s" transform="translate(1273.3,309.7) rotate(0.01) scale(1,1)" text-anchor="middle">4099</text>
<text class="s" transform="translate(1338.3,318.7) rotate(0.01) scale(1,1)" text-anchor="middle">4103</text>
<text class="s" transform="translate(1362.3,329.7) rotate(0.01) scale(1,1)" text-anchor="middle">4102</text>
<text class="s" transform="translate(1388.3,265.7) rotate(0.01) scale(1,1)" text-anchor="middle">4096</text>
<text class="s" transform="translate(1428.3,234.7) rotate(0.01) scale(1,1)" text-anchor="middle">4094</text>
<text class="s" transform="translate(1442.3,310.7) rotate(0.01) scale(1,1)" text-anchor="middle">4092</text>
</g>
</svg></body></html>
